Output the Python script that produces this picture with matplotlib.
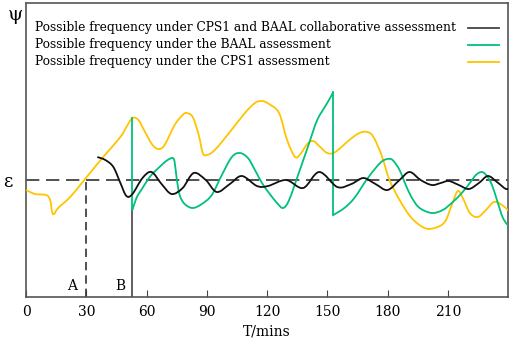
import matplotlib
matplotlib.use("Agg")
import matplotlib.pyplot as plt
import numpy as np
from matplotlib.path import Path
from matplotlib.patches import PathPatch

# time in minutes, psi in arbitrary units (axis 0..294)
eps = 117

cps_t = [0, 4.5, 10, 12, 13, 14, 16, 22, 29, 38, 47, 50, 53, 56, 59, 63, 66, 69, 74, 78, 80, 83,
         86, 88, 90, 94, 101.5, 109, 114, 117.5, 121, 126, 130, 134, 137, 140, 143, 146, 150, 154,
         161, 166, 170, 173, 177, 181, 186, 192, 198.5, 203.5, 208.5, 212, 215, 217.5, 221, 225,
         229, 233, 237, 241]
cps_v = [107, 103, 102, 97, 85, 83, 89, 100, 117, 139, 160, 170, 179, 177, 166, 152, 148, 152, 172,
         182, 184, 180, 162, 144, 142, 147, 165, 184, 194, 196, 193, 184, 157, 140, 144, 153, 156,
         151, 144, 145, 157, 164, 165, 160, 142, 117, 97, 79, 69, 69, 75, 92, 106, 99, 84, 80, 87,
         95, 92, 85]

baal_t1 = [53, 55, 58, 62, 67, 70.5, 73, 74, 75, 76.5, 79, 83, 87.5, 92.5, 97.5, 102.5, 106.5,
           110.5, 114, 117.5, 121, 125, 128, 131, 136, 141, 145, 150, 153]
baal_v1 = [87, 99, 109, 121, 131, 137, 139, 135, 119, 102, 93, 89, 93, 102, 122, 140, 144, 139,
           127, 114, 104, 94, 89, 97, 125, 154, 177, 194, 205]
baal_t2 = [153, 158.5, 163.5, 169.5, 174.5, 177.5, 180, 182.5, 186, 189.5, 192.5, 196, 202, 207.5,
           212.5, 217, 221, 224, 227, 229.5, 232, 234.5, 237.5, 241]
baal_v2 = [82, 89, 99, 117, 130, 136, 138, 137, 127, 110, 98, 89, 84, 87, 95, 104, 114, 122, 125,
           121, 112, 97, 79, 69]

both_t = [35.5, 39.5, 43.5, 47, 50, 53, 58, 62.5, 67.5, 72.5, 78, 83.5, 89.5, 95, 101.5, 107.5,
          115, 120.5, 129.5, 138, 146, 155, 162, 168, 174, 180, 186, 191, 196.5, 202, 206.5, 210.5,
          215.5, 220.5, 225.5, 230, 234.5, 239, 241]
both_v = [140, 137, 130, 114, 101, 103, 119, 125, 113, 103, 109, 124, 117, 105, 113, 121, 111,
          111, 117, 109, 125, 110, 113, 119, 113, 107, 117, 125, 117, 112, 114, 116, 112, 108, 114,
          121, 115, 108, 110]

labels = ["Possible frequency under CPS1 and BAAL collaborative assessment",
          "Possible frequency under the BAAL assessment",
          "Possible frequency under the CPS1 assessment"]

c_black = "#111111"
c_green = "#00c07a"
c_yellow = "#ffc400"


def smooth(ax, t, v, color):
    # catmull-rom through the read points
    p = np.column_stack([t, v]).astype(float)
    verts = [p[0]]
    codes = [Path.MOVETO]
    n = len(p)
    for i in range(n - 1):
        p0 = p[i - 1] if i > 0 else p[i]
        p3 = p[i + 2] if i + 2 < n else p[i + 1]
        p1, p2 = p[i], p[i + 1]
        c1 = p1 + (p2 - p0) / 6.0
        c2 = p2 - (p3 - p1) / 6.0
        verts += [c1, c2, p2]
        codes += [Path.CURVE4] * 3
    ax.add_patch(PathPatch(Path(verts, codes), fill=False, edgecolor=color, lw=1.3,
                           transform=ax.transData, zorder=3))


fig = plt.figure(figsize=(5.12, 3.46), dpi=100)
ax = fig.add_axes([0.0508, 0.1416, 0.9414, 0.8497])
ax.set_xlim(0, 240)
ax.set_ylim(0, 294)

ax.axhline(eps, color="#333333", lw=1.2, dashes=(8, 4), zorder=2)
ax.plot([30, 30], [0, eps], color="#333333", lw=1.2, dashes=(5, 3), zorder=2)
ax.plot([53, 53], [0, 87], color="#444444", lw=1.2, zorder=2)

smooth(ax, cps_t, cps_v, c_yellow)
ax.plot([53, 53], [179, 87], color=c_green, lw=1.3, zorder=3)
smooth(ax, baal_t1, baal_v1, c_green)
ax.plot([153, 153], [205, 82], color=c_green, lw=1.3, zorder=3)
smooth(ax, baal_t2, baal_v2, c_green)
smooth(ax, both_t, both_v, c_black)

font = "DejaVu Serif"
ax.set_xticks([0, 30, 60, 90, 120, 150, 180, 210])
ax.tick_params(axis="x", direction="in", length=5, color="#444444", labelsize=10, pad=6)
for lab in ax.get_xticklabels():
    lab.set_fontfamily(font)
ax.set_yticks([eps])
ax.set_yticklabels(["ε"], fontsize=13, fontfamily=font)
ax.tick_params(axis="y", length=0, pad=10)
ax.set_xlabel("T/mins", fontsize=10, fontfamily=font, labelpad=4)
for s in ax.spines.values():
    s.set_color("#555555")
    s.set_linewidth(1.2)

fig.text(15 / 512, 1 - 15 / 346, "ψ", fontsize=14, fontfamily=font, ha="center", va="center")
ax.text(23, 11, "A", fontsize=10, fontfamily=font, ha="center", va="center")
ax.text(47, 11, "B", fontsize=10, fontfamily=font, ha="center", va="center")

# legend: text on the left, line sample at the right
for i, (lab, col) in enumerate(zip(labels, ["#444444", c_green, c_yellow])):
    y = 0.915 - i * 0.057
    ax.text(0.019, y, lab, transform=ax.transAxes, fontsize=8.8, fontfamily=font,
            ha="left", va="center")
    ax.plot([0.917, 0.982], [y, y], transform=ax.transAxes, color=col, lw=1.3)

fig.savefig("out.png", dpi=100)
